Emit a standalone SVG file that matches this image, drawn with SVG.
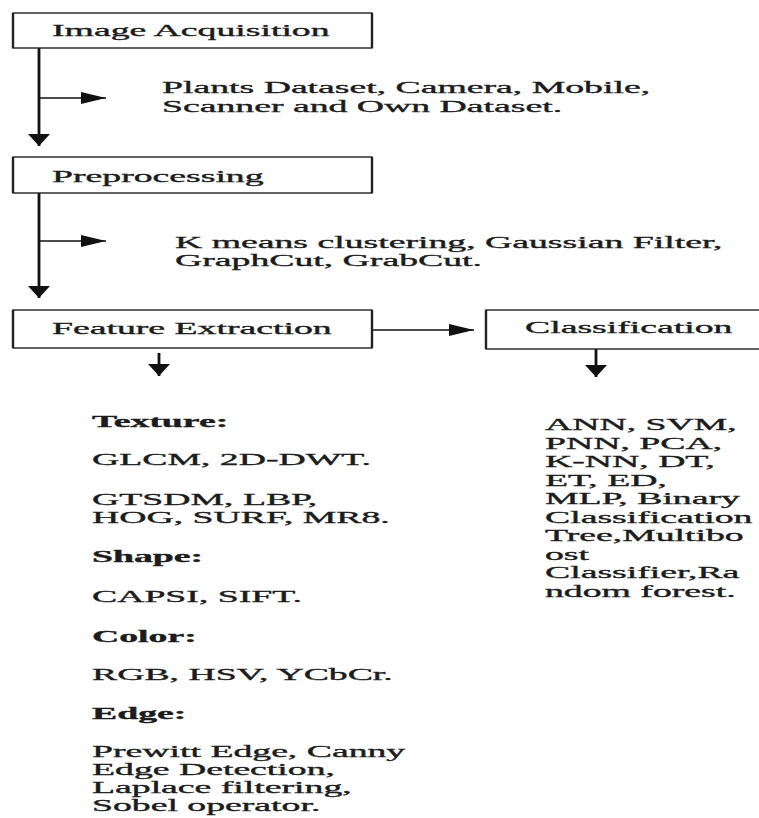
<svg xmlns="http://www.w3.org/2000/svg" width="759" height="818" viewBox="0 0 759 818">
<style>
.t{font-family:"Liberation Serif","Times New Roman",serif;font-size:17px;fill:#1c1c1c;stroke:#1c1c1c;stroke-width:0.35}
.b{font-weight:bold}
.box{fill:#fff;stroke:#222;stroke-width:1.4}
.vedge{stroke:#222;stroke-width:2.4;fill:none}
.h{stroke:#111;stroke-width:1.6;fill:none}
.v{stroke:#111;stroke-width:2.8;fill:none}
</style>
<defs>
<marker id="ah" markerUnits="userSpaceOnUse" markerWidth="26" markerHeight="13" refX="25" refY="6" orient="auto">
<path d="M0,0 L25,6 L0,12 z" fill="#111"/>
</marker>
<marker id="av" markerUnits="userSpaceOnUse" markerWidth="13" markerHeight="23" refX="12" refY="11" orient="auto">
<path d="M0,0 L12,11 L0,22 z" fill="#111"/>
</marker>
</defs>
<rect width="759" height="818" fill="#fff"/>
<g id="connectors">
<path class="v" d="M39,48 V146" marker-end="url(#av)"/>
<path class="h" d="M39,98 H106" marker-end="url(#ah)"/>
<path class="v" d="M39,193 V298" marker-end="url(#av)"/>
<path class="h" d="M39,241 H106" marker-end="url(#ah)"/>
<path class="h" d="M372,330 H474" marker-end="url(#ah)"/>
<path class="v" d="M159,353 V376" marker-end="url(#av)"/>
<path class="v" d="M596,349 V377" marker-end="url(#av)"/>
</g>
<g id="image-acquisition">
<rect class="box" x="13" y="13" width="359" height="35"/>
<path class="vedge" d="M13,13 V48 M372,13 V48"/>
<text class="t" transform="translate(52 36) scale(2.22 1)">Image Acquisition</text>
</g>
<g id="acquisition-sources">
<text class="t" transform="translate(162 93) scale(2.22 1)">Plants Dataset, Camera, Mobile,</text>
<text class="t" transform="translate(162 112) scale(2.22 1)">Scanner and Own Dataset.</text>
</g>
<g id="preprocessing">
<rect class="box" x="13" y="157" width="359" height="36"/>
<path class="vedge" d="M13,157 V193 M372,157 V193"/>
<text class="t" transform="translate(52 182) scale(2.22 1)">Preprocessing</text>
</g>
<g id="preprocessing-methods">
<text class="t" transform="translate(175 248) scale(2.22 1)">K means clustering, Gaussian Filter,</text>
<text class="t" transform="translate(175 266) scale(2.22 1)">GraphCut, GrabCut.</text>
</g>
<g id="feature-extraction">
<rect class="box" x="13" y="310" width="359" height="38"/>
<path class="vedge" d="M13,310 V348 M372,310 V348"/>
<text class="t" transform="translate(52 334) scale(2.22 1)">Feature Extraction</text>
</g>
<g id="classification">
<rect class="box" x="486" y="310" width="300" height="39"/>
<path class="vedge" d="M486,310 V349"/>
<text class="t" transform="translate(525 333) scale(2.22 1)">Classification</text>
</g>
<g id="features-list">
<text class="t b" transform="translate(92 427) scale(2.22 1)">Texture:</text>
<text class="t" transform="translate(92 465) scale(2.22 1)">GLCM, 2D-DWT.</text>
<text class="t" transform="translate(92 505) scale(2.22 1)">GTSDM, LBP,</text>
<text class="t" transform="translate(92 523) scale(2.22 1)">HOG, SURF, MR8.</text>
<text class="t b" transform="translate(92 562) scale(2.22 1)">Shape:</text>
<text class="t" transform="translate(92 602) scale(2.22 1)">CAPSI, SIFT.</text>
<text class="t b" transform="translate(92 642) scale(2.22 1)">Color:</text>
<text class="t" transform="translate(92 680) scale(2.22 1)">RGB, HSV, YCbCr.</text>
<text class="t b" transform="translate(92 719) scale(2.22 1)">Edge:</text>
<text class="t" transform="translate(92 757) scale(2.22 1)">Prewitt Edge, Canny</text>
<text class="t" transform="translate(92 775) scale(2.22 1)">Edge Detection,</text>
<text class="t" transform="translate(92 793) scale(2.22 1)">Laplace filtering,</text>
<text class="t" transform="translate(92 811) scale(2.22 1)">Sobel operator.</text>
</g>
<g id="classifiers-list">
<text class="t" transform="translate(545 430) scale(2.22 1)">ANN, SVM,</text>
<text class="t" transform="translate(545 448.5) scale(2.22 1)">PNN, PCA,</text>
<text class="t" transform="translate(545 467) scale(2.22 1)">K-NN, DT,</text>
<text class="t" transform="translate(545 485.5) scale(2.22 1)">ET, ED,</text>
<text class="t" transform="translate(545 504) scale(2.22 1)">MLP, Binary</text>
<text class="t" transform="translate(545 522.5) scale(2.22 1)">Classification</text>
<text class="t" transform="translate(545 541) scale(2.22 1)">Tree,Multibo</text>
<text class="t" transform="translate(545 559.5) scale(2.22 1)">ost</text>
<text class="t" transform="translate(545 578) scale(2.22 1)">Classifier,Ra</text>
<text class="t" transform="translate(545 596.5) scale(2.22 1)">ndom forest.</text>
</g>
</svg>
